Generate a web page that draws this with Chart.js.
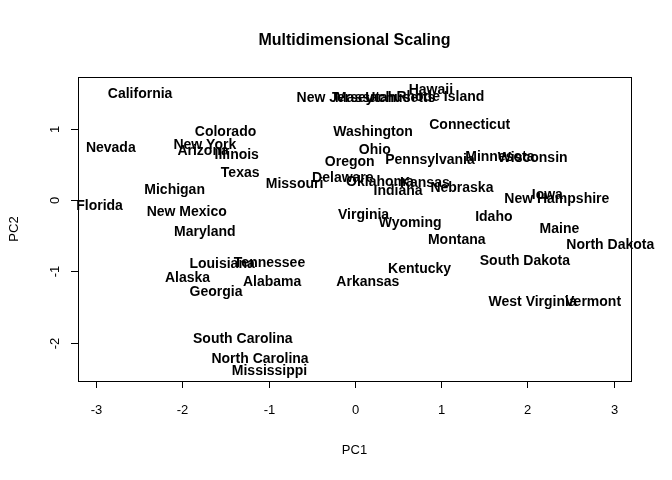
<!DOCTYPE html>
<html><head><meta charset="utf-8">
<script src="https://cdn.jsdelivr.net/npm/chart.js@4/dist/chart.umd.min.js"></script>
<style>body{margin:0;background:#fff}#c{display:block}</style>
</head><body>
<div style="width:672px;height:480px"><canvas id="c"></canvas></div>
<script>
// state names and their coordinates on the two components
const states = ['California','Nevada','Florida','Michigan','New Mexico','Maryland','Colorado','New York','Arizona','Illinois',
  'Texas','Missouri','Louisiana','Tennessee','Alaska','Georgia','Alabama','South Carolina','North Carolina','Mississippi',
  'New Jersey','Massachusetts','Rhode Island','Hawaii','Delaware','Connecticut','Washington','Ohio','Oregon','Pennsylvania',
  'Minnesota','Wisconsin','Oklahoma','Kansas','Indiana','Nebraska','Iowa','New Hampshire','Virginia','Wyoming',
  'Idaho','Maine','North Dakota','Montana','South Dakota','Kentucky','Arkansas','West Virginia','Vermont','Utah'];
const pc1 = [-2.49,-2.83,-2.96,-2.09,-1.95,-1.74,-1.50,-1.74,-1.76,-1.37,
  -1.33,-0.70,-1.54,-0.99,-1.94,-1.61,-0.96,-1.30,-1.10,-0.99,
  -0.23,0.35,0.99,0.88,-0.14,1.33,0.21,0.23,-0.06,0.87,
  1.68,2.06,0.29,0.81,0.50,1.24,2.23,2.34,0.10,0.64,
  1.61,2.37,2.96,1.18,1.97,0.75,0.15,2.06,2.76,0.30];
const pc2 = [1.49,0.73,-0.08,0.14,-0.17,-0.45,0.95,0.77,0.69,0.63,
  0.38,0.22,-0.90,-0.88,-1.09,-1.29,-1.16,-1.95,-2.24,-2.40,
  1.43,1.43,1.44,1.54,0.31,1.05,0.95,0.70,0.53,0.56,
  0.60,0.58,0.25,0.24,0.13,0.17,0.07,0.01,-0.21,-0.32,
  -0.24,-0.41,-0.63,-0.56,-0.86,-0.97,-1.15,-1.43,-1.43,1.43];
const xTicks = [-3,-2,-1,0,1,2,3];
const yTicks = [-2,-1,0,1];

const pts = states.map((s, i) => ({x: pc1[i], y: pc2[i]}));

const drawR = {
  id: 'drawR',
  afterDatasetsDraw(chart) {
    const ctx = chart.ctx, a = chart.chartArea;
    const xs = chart.scales.x, ys = chart.scales.y;
    ctx.save();
    ctx.strokeStyle = '#000'; ctx.lineWidth = 1;
    ctx.strokeRect(a.left + 0.5, a.top + 0.5, a.right - a.left, a.bottom - a.top);
    ctx.fillStyle = '#000';
    ctx.font = '13px "Liberation Sans", Arial';
    ctx.textAlign = 'center'; ctx.textBaseline = 'middle';
    xTicks.forEach(v => {
      const px = Math.round(xs.getPixelForValue(v)) + 0.5;
      ctx.beginPath(); ctx.moveTo(px, a.bottom); ctx.lineTo(px, a.bottom + 7); ctx.stroke();
      ctx.fillText(String(v), px, a.bottom + 29);
    });
    yTicks.forEach(v => {
      const py = Math.round(ys.getPixelForValue(v)) + 0.5;
      ctx.beginPath(); ctx.moveTo(a.left, py); ctx.lineTo(a.left - 7, py); ctx.stroke();
      ctx.save(); ctx.translate(a.left - 23, py); ctx.rotate(-Math.PI / 2);
      ctx.fillText(String(v), 0, 0); ctx.restore();
    });
    ctx.fillText('PC1', (a.left + a.right) / 2, 450);
    ctx.save(); ctx.translate(14, (a.top + a.bottom) / 2); ctx.rotate(-Math.PI / 2);
    ctx.fillText('PC2', 0, 0); ctx.restore();
    ctx.font = 'bold 16px "Liberation Sans", Arial';
    ctx.fillText('Multidimensional Scaling', (a.left + a.right) / 2, 41);
    ctx.font = 'bold 14px "Liberation Sans", Arial';
    states.forEach((s, i) => {
      ctx.fillText(s, xs.getPixelForValue(pc1[i]), ys.getPixelForValue(pc2[i]));
    });
    ctx.restore();
  }
};

new Chart(document.getElementById('c'), {
  type: 'scatter',
  data: { datasets: [{ data: pts, pointRadius: 0 }] },
  options: {
    responsive: true, maintainAspectRatio: false, animation: false,
    layout: { padding: { left: 0, right: 41, top: 77, bottom: 0 } },
    plugins: { legend: { display: false }, tooltip: { enabled: false } },
    scales: {
      x: { min: -3.21, max: 3.2, ticks: { display: false }, grid: { display: false }, border: { display: false },
           afterFit: s => { s.height = 99; } },
      y: { min: -2.54, max: 1.725, ticks: { display: false }, grid: { display: false }, border: { display: false },
           afterFit: s => { s.width = 78; } }
    }
  },
  plugins: [drawR]
});
</script>
</body></html>
